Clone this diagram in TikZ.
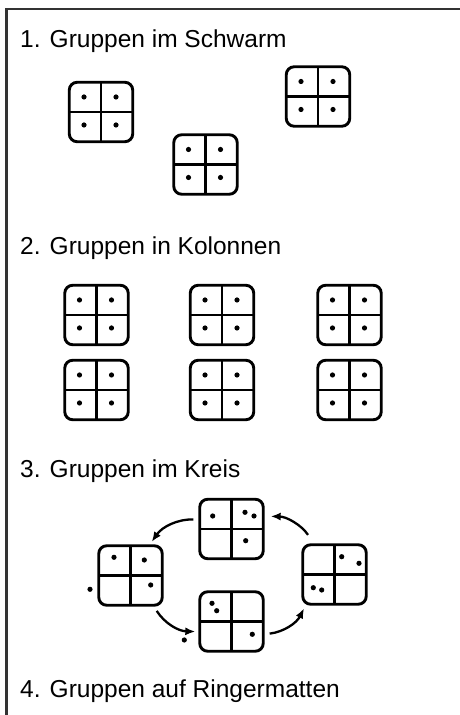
\documentclass[tikz,border=0pt]{standalone}
\usepackage{fontspec}
\setmainfont{Liberation Sans}
\usetikzlibrary{arrows.meta}

% Kreuz und Punkte in einer Matte
\newcommand{\matkreuz}{\draw[line width=2.4pt] (path picture bounding box.north) -- (path picture bounding box.south)
    (path picture bounding box.west) -- (path picture bounding box.east);}
\newcommand{\matpunkte}{\foreach \dx/\dy in {-17/15,15/15,-17/-13,15/-13}
    \fill ([shift={(\dx pt,\dy pt)}]path picture bounding box.center) circle (2.6pt);}

\begin{document}
\begin{tikzpicture}[x=1pt, y=1pt,
    titel/.style={anchor=base west, inner sep=0pt, font=\fontsize{24.5}{29}\selectfont},
    matte/.style={draw, rounded corners=8pt, line width=2.9pt, minimum width=63.5pt, minimum height=59.5pt,
      inner sep=0pt, path picture={\matkreuz}},
    matte4/.style={matte, path picture={\matkreuz\matpunkte}},
    >={Latex[length=10pt,width=8pt]},
    pfeil/.style={->, line width=2.3pt, shorten <=5pt, shorten >=3pt, bend right=28}]
  \useasboundingbox (0,0) rectangle (460,715);
  \draw[line width=2.2pt, black!80] (6.5,0) -- (6.5,706) -- (460,706);

  % 1. Schwarm
  \node[titel] (titel1) at (20,667) {1. Gruppen im Schwarm};
  \node[matte4] (s1) at (101,603) {};
  \node[matte4] (s2) at (205.5,550.5) {};
  \node[matte4] (s3) at (318,618.5) {};

  % 2. Kolonnen
  \node[titel] (titel2) at (20,460) {2. Gruppen in Kolonnen};
  \foreach \x/\n in {96.5/1,222/2,349.5/3} {
    \node[matte4] (k\n o) at (\x,400) {};
    \node[matte4] (k\n u) at (\x,325) {};
  }

  % 3. Kreis
  \node[titel] (titel3) at (20,237) {3. Gruppen im Kreis};
  \node[matte] (oben)   at (231.5,186) {};
  \node[matte] (links)  at (130.5,139.5) {};
  \node[matte] (unten)  at (231.5,93.5) {};
  \node[matte] (rechts) at (334.5,140.5) {};
  \foreach \p in {(212.7,199),(245,202.7),(254,199),(245.7,174.3),
                  (114,157.7),(144.3,155),(150.7,130),(90,125.7),
                  (212,111.7),(216.7,104.3),(252.3,80.7),(184.3,75),
                  (341.7,158.3),(359,151.7),(313.3,127.3),(321.7,125)}
    \fill \p circle (2.6pt);
  \draw[pfeil] (oben.164) to (links.58);
  \draw[pfeil] (links.-53) to (unten.197);
  \draw[pfeil] (unten.-21) to (rechts.227);
  \draw[pfeil, shorten <=10pt, shorten >=6pt] (rechts.124) to (oben.21);

  % 4. Ringermatten
  \node[titel] (titel4) at (20,17) {4. Gruppen auf Ringermatten};
\end{tikzpicture}
\end{document}
